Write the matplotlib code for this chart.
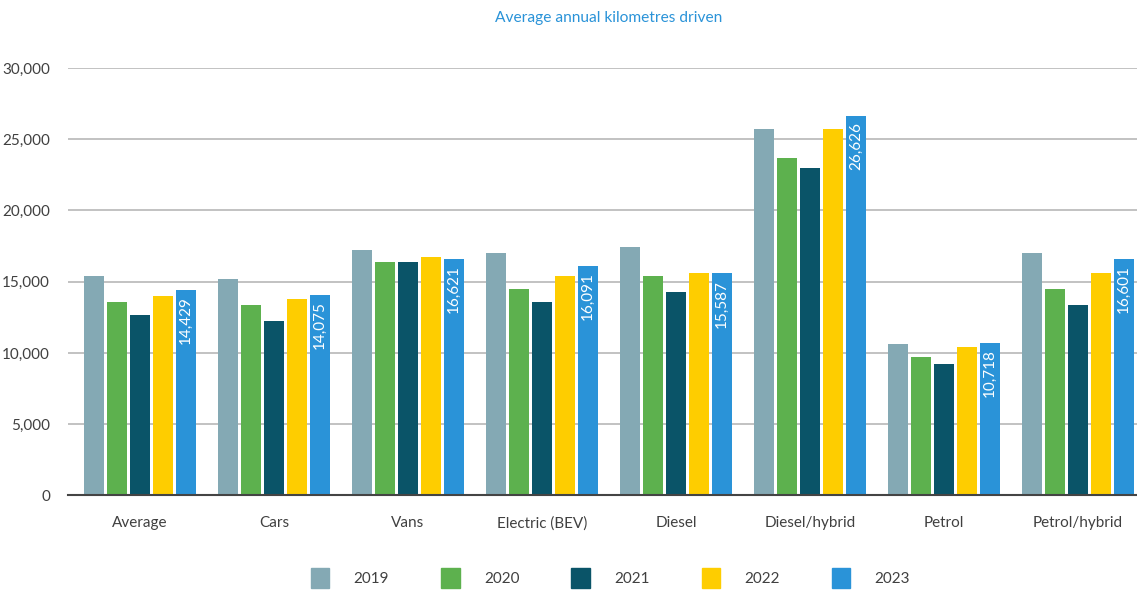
import numpy as np
import matplotlib.pyplot as plt
from matplotlib.patches import Patch

plt.rcParams['font.family'] = ['Lato', 'DejaVu Sans']

categories = ['Average', 'Cars', 'Vans', 'Electric (BEV)', 'Diesel',
              'Diesel/hybrid', 'Petrol', 'Petrol/hybrid']
years = ['2019', '2020', '2021', '2022', '2023']
km_2019 = [15400, 15200, 17250, 17050, 17450, 25700, 10650, 17050]
km_2020 = [13600, 13400, 16350, 14500, 15400, 23650, 9750, 14500]
km_2021 = [12650, 12250, 16350, 13600, 14300, 22950, 9250, 13400]
km_2022 = [14000, 13800, 16750, 15400, 15600, 25700, 10450, 15600]
km_2023 = [14429, 14075, 16621, 16091, 15587, 26626, 10718, 16601]
series = [km_2019, km_2020, km_2021, km_2022, km_2023]
colors = ['#84a9b4', '#5db14e', '#0a5468', '#fecd00', '#2a93d8']

fig = plt.figure(figsize=(11.37, 5.91), dpi=100)
ax = fig.add_axes([0.0598, 0.1616, 0.9402, 0.7234])

x = np.arange(len(categories))
width = 0.15
step = 0.172
for i, (vals, col) in enumerate(zip(series, colors)):
    ax.bar(x + (i - 2) * step, vals, width, color=col, zorder=3)

# value labels inside the 2023 bars
for xi, v in zip(x, km_2023):
    ax.text(xi + 2 * step, v - 450, f'{v:,}', rotation=90, ha='center',
            va='top', color='white', fontsize=11, zorder=4)

ax.set_xlim(-0.537, 7.44)
ax.set_ylim(0, 30000)
ax.set_yticks(np.arange(0, 30001, 5000))
ax.set_yticklabels([f'{t:,}' for t in range(0, 30001, 5000)])
ax.yaxis.grid(True, color='#bdbdbd', linewidth=1.3, zorder=0)
ax.set_xticks(x)
ax.set_xticklabels(categories)
ax.tick_params(length=0, labelsize=11, colors='#404040')
ax.tick_params(axis='x', pad=15)
ax.tick_params(axis='y', pad=13)
for s in ['top', 'right', 'left']:
    ax.spines[s].set_visible(False)
ax.spines['bottom'].set_color('#444444')
ax.spines['bottom'].set_linewidth(1.5)
ax.spines['bottom'].set_zorder(5)

fig.text(0.535, 0.97, 'Average annual kilometres driven', ha='center',
         va='center', color='#2a93d8', fontsize=11.2)

handles = [Patch(color=c, label=y) for c, y in zip(colors, years)]
fig.legend(handles=handles, loc='center', bbox_to_anchor=(0.537, 0.022),
           ncol=5, frameon=False, fontsize=11, handlelength=1.2,
           handleheight=1.6, handletextpad=1.6, columnspacing=3.4,
           labelcolor='#404040')

fig.savefig('out.png', dpi=100)
